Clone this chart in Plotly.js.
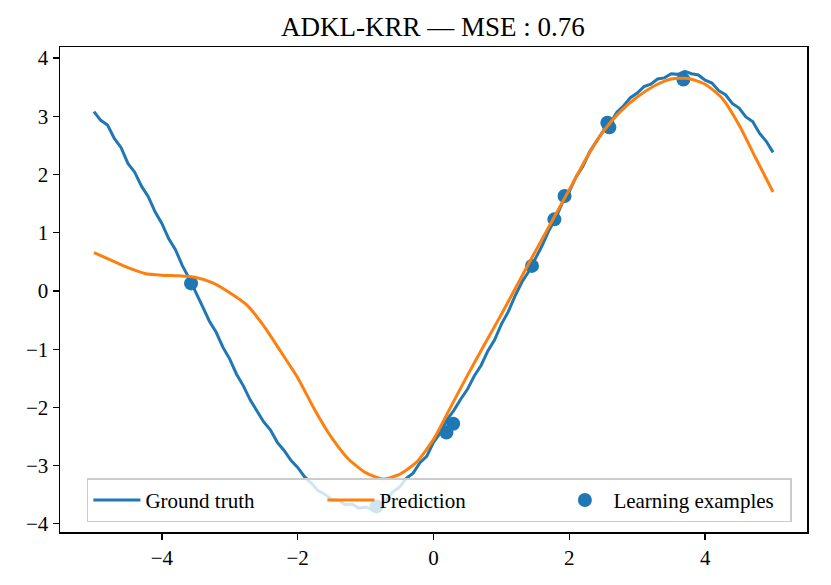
<!DOCTYPE html>
<html>
<head>
<meta charset="utf-8">
<script src="https://cdn.plot.ly/plotly-3.0.1.min.js"></script>
<style>
  html, body { margin: 0; padding: 0; background: #fff; }
  #graphDiv { width: 831px; height: 585px; }
</style>
</head>
<body>
<div id="graphDiv"></div>
<script>
// Ground truth (noisy curve)
const truthX = [
	-5.0, -4.9, -4.8, -4.7, -4.6, -4.5, -4.4, -4.3, -4.2, -4.1,
	-4.0, -3.9, -3.8, -3.7, -3.6, -3.5, -3.4, -3.3, -3.2, -3.1,
	-3.0, -2.9, -2.8, -2.7, -2.6, -2.5, -2.4, -2.3, -2.2, -2.1,
	-2.0, -1.9, -1.8, -1.7, -1.6, -1.5, -1.4, -1.3, -1.2, -1.1,
	-1.0, -0.9, -0.8, -0.7, -0.6, -0.5, -0.4, -0.3, -0.2, -0.1,
	0.0, 0.1, 0.2, 0.3, 0.4, 0.5, 0.6, 0.7, 0.8, 0.9,
	1.0, 1.1, 1.2, 1.3, 1.4, 1.5, 1.6, 1.7, 1.8, 1.9,
	2.0, 2.1, 2.2, 2.3, 2.4, 2.5, 2.6, 2.7, 2.8, 2.9,
	3.0, 3.1, 3.2, 3.3, 3.4, 3.5, 3.6, 3.7, 3.8, 3.9,
	4.0, 4.1, 4.2, 4.3, 4.4, 4.5, 4.6, 4.7, 4.8, 4.9,
	5.0
];
const truthY = [
	3.08, 2.93, 2.85, 2.62, 2.46, 2.19, 2.04, 1.80, 1.62, 1.36,
	1.16, 0.90, 0.71, 0.44, 0.22, -0.04, -0.27, -0.52, -0.71, -0.97,
	-1.17, -1.43, -1.63, -1.87, -2.05, -2.25, -2.39, -2.60, -2.74, -2.91,
	-3.03, -3.19, -3.30, -3.43, -3.49, -3.58, -3.60, -3.67, -3.66, -3.73,
	-3.71, -3.76, -3.69, -3.60, -3.45, -3.37, -3.22, -3.13, -2.95, -2.84,
	-2.60, -2.44, -2.21, -2.05, -1.86, -1.69, -1.46, -1.28, -1.03, -0.84,
	-0.57, -0.36, -0.09, 0.15, 0.33, 0.56, 0.78, 1.04, 1.25, 1.52,
	1.71, 1.96, 2.14, 2.39, 2.58, 2.75, 2.87, 3.07, 3.18, 3.32,
	3.40, 3.51, 3.55, 3.64, 3.66, 3.73, 3.72, 3.77, 3.73, 3.71,
	3.62, 3.57, 3.44, 3.37, 3.22, 3.14, 2.99, 2.91, 2.71, 2.57,
	2.38
];

// Model prediction
const predX = [
	-5.0, -4.75, -4.5, -4.25, -4.0, -3.75, -3.5, -3.25, -3.0, -2.75,
	-2.5, -2.25, -2.0, -1.75, -1.5, -1.25, -1.0, -0.75, -0.5, -0.25,
	0.0, 0.25, 0.5, 0.75, 1.0, 1.25, 1.5, 1.75, 2.0, 2.25,
	2.5, 2.75, 3.0, 3.25, 3.5, 3.75, 4.0, 4.25, 4.5, 4.75,
	5.0
];
const predY = [
	0.66, 0.53, 0.40, 0.30, 0.27, 0.26, 0.23, 0.14, -0.03, -0.24,
	-0.60, -1.04, -1.49, -2.04, -2.52, -2.89, -3.12, -3.23, -3.15, -2.94,
	-2.55, -2.00, -1.45, -0.92, -0.40, 0.14, 0.68, 1.21, 1.74, 2.28,
	2.74, 3.08, 3.33, 3.52, 3.64, 3.65, 3.55, 3.31, 2.85, 2.27,
	1.70
];

// Learning examples
const learnX = [-3.57, -0.84, 0.19, 0.29, 1.45, 1.78, 1.93, 2.56, 2.59, 3.68];
const learnY = [0.13, -3.70, -2.43, -2.28, 0.43, 1.23, 1.63, 2.89, 2.81, 3.63];

const titleText = 'ADKL-KRR — MSE : 0.76';
const serif = '"Liberation Serif", "DejaVu Serif", serif';

const truth = {
	type: 'scatter',
	mode: 'lines',
	name: 'Ground truth',
	x: truthX,
	y: truthY,
	line: { color: '#1f77b4', width: 3 },
	legendrank: 1,
};

const examples = {
	type: 'scatter',
	mode: 'markers',
	name: 'Learning examples',
	x: learnX,
	y: learnY,
	marker: { color: '#1f77b4', size: 14 },
	legendrank: 3,
};

const pred = {
	type: 'scatter',
	mode: 'lines',
	name: 'Prediction',
	x: predX,
	y: predY,
	line: { color: '#ff7f0e', width: 3, shape: 'spline', smoothing: 0.6 },
	legendrank: 2,
};

const axisStyle = {
	showgrid: false,
	zeroline: false,
	showline: true,
	mirror: true,
	linecolor: '#000',
	linewidth: 1.5,
	ticks: 'outside',
	ticklen: 6,
	tickwidth: 1.3,
	tickcolor: '#000',
	tickfont: { family: serif, size: 21, color: '#000' },
};

const layout = {
	width: 831,
	height: 585,
	margin: { l: 60, r: 24, t: 47, b: 53 },
	paper_bgcolor: '#fff',
	plot_bgcolor: '#fff',
	title: {
		text: titleText,
		font: { family: serif, size: 27, color: '#000' },
		x: 0.521,
		xanchor: 'center',
		y: 0.955,
		yanchor: 'middle',
	},
	xaxis: Object.assign({}, axisStyle, {
		range: [-5.5, 5.5],
		tickvals: [-4, -2, 0, 2, 4],
	}),
	yaxis: Object.assign({}, axisStyle, {
		range: [-4.14, 4.19],
		tickvals: [-4, -3, -2, -1, 0, 1, 2, 3, 4],
	}),
	showlegend: true,
	legend: {
		orientation: 'h',
		x: 0.036,
		xanchor: 'left',
		y: 0.02,
		yanchor: 'bottom',
		bgcolor: 'rgba(255,255,255,0.8)',
		bordercolor: '#cccccc',
		borderwidth: 1.5,
		font: { family: serif, size: 21, color: '#000' },
		itemwidth: 47,
		entrywidthmode: 'pixels',
		entrywidth: 172,
		traceorder: 'normal',
	},
};

Plotly.newPlot('graphDiv', [truth, examples, pred], layout, { displayModeBar: false, staticPlot: true });
</script>
</body>
</html>
